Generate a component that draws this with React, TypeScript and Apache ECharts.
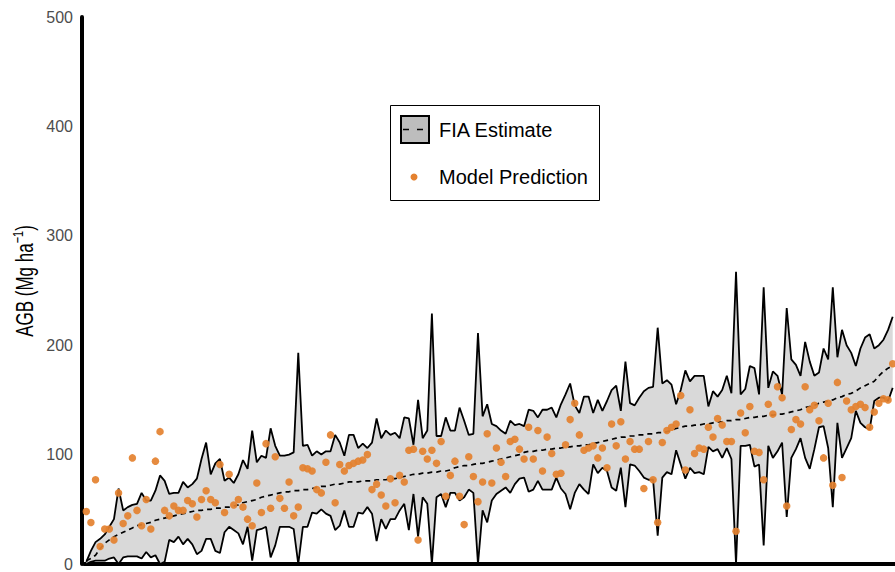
import React, { useEffect, useRef } from "react";
import * as echarts from "echarts";

const yTicks = [0, 100, 200, 300, 400, 500];

const fiaUpper = [
  2, 12, 20, 23, 27, 34, 41, 69, 49, 52, 54, 55, 65, 58, 58, 67, 81, 76, 64, 65, 65, 75, 70, 73, 78, 96, 111, 82, 92, 96,
  76, 79, 74, 82, 95, 87, 122, 93, 99, 97, 124, 108, 99, 99, 100, 102, 193, 108, 109, 99, 103, 100, 103, 103, 118, 111, 99, 118,
  118, 106, 110, 106, 111, 133, 115, 122, 118, 120, 115, 134, 133, 109, 150, 115, 122, 229, 117, 117, 134, 122, 122, 143, 131, 118, 119, 211,
  135, 146, 128, 126, 122, 119, 131, 127, 128, 126, 141, 140, 134, 141, 141, 143, 134, 146, 155, 165, 145, 138, 153, 153, 138, 150, 140, 149,
  159, 163, 140, 185, 147, 145, 152, 158, 161, 162, 216, 165, 168, 164, 146, 159, 177, 167, 172, 172, 172, 144, 158, 153, 159, 172, 156, 267, 155,
  160, 181, 179, 155, 253, 161, 176, 172, 155, 234, 187, 182, 172, 203, 185, 172, 175, 197, 187, 253, 189, 214, 200, 193, 181, 197, 207, 210, 197, 200, 205, 214, 226,
];

const fiaLower = [
  0, 2, 3, 3, 3, 5, 6, 0, 6, 7, 7, 7, 5, 11, 6, 8, 0, 2, 22, 20, 25, 18, 23, 18, 9, 12, 23, 23, 12, 10,
  29, 34, 31, 28, 18, 34, 3, 31, 32, 34, 6, 17, 34, 34, 34, 32, 0, 34, 34, 47, 46, 50, 46, 44, 31, 35, 49, 34,
  34, 47, 46, 52, 46, 21, 41, 32, 41, 41, 49, 55, 31, 64, 25, 61, 55, 0, 61, 64, 52, 65, 65, 58, 61, 68, 65, 0,
  49, 38, 58, 64, 67, 70, 65, 73, 78, 79, 66, 68, 76, 68, 68, 68, 79, 69, 64, 50, 65, 73, 68, 64, 91, 83, 88, 85,
  70, 67, 88, 52, 91, 90, 85, 79, 77, 77, 26, 79, 84, 82, 104, 91, 78, 88, 83, 84, 82, 107, 103, 105, 97, 106, 96, 0, 108,
  108, 109, 89, 91, 17, 108, 97, 103, 111, 43, 97, 105, 115, 97, 87, 105, 125, 126, 106, 52, 129, 97, 106, 115, 140, 129, 125, 123, 149, 152, 152, 149, 161,
];

const fiaMean = [
  3, 5, 8, 14, 19, 22, 25, 27, 29, 31, 33, 35, 36, 37, 38, 40, 41, 42, 43, 44, 45, 46, 47, 48, 49, 49, 50, 50, 51, 51,
  52, 52, 53, 54, 56, 57, 58, 59, 61, 62, 63, 64, 65, 66, 66, 67, 67, 68, 68, 69, 70, 71, 71, 72, 73, 73, 74, 75,
  75, 75, 76, 76, 76, 77, 77, 77, 78, 78, 79, 80, 81, 82, 82, 83, 83, 84, 84, 85, 85, 86, 88, 89, 90, 90, 91, 92,
  92, 93, 94, 95, 96, 97, 98, 99, 100, 102, 103, 103, 104, 104, 105, 105, 106, 106, 107, 107, 108, 108, 109, 109, 110, 111, 112, 113,
  114, 115, 116, 116, 117, 117, 118, 118, 119, 119, 120, 120, 121, 122, 124, 125, 126, 126, 127, 127, 128, 128, 129, 130, 130, 131, 131, 132, 132, 133,
  134, 134, 135, 135, 136, 136, 137, 137, 138, 139, 140, 141, 143, 144, 145, 147, 148, 149, 150, 152, 153, 155, 156, 158, 161, 163, 165, 167, 172, 176, 179, 181,
];

const modelPred = [
  48, 38, 77, 16, 32, 32, 22, 65, 37, 44, 97, 49, 35, 59, 32, 94, 121, 49, 44, 53, 49, 49, 58, 55, 43, 59, 67, 59, 56, 91,
  47, 82, 54, 59, 52, 41, 35, 74, 47, 110, 51, 98, 60, 51, 75, 44, 52, 88, 87, 85, 68, 65, 93, 118, 56, 91, 85, 90,
  92, 94, 95, 100, 68, 73, 63, 53, 78, 56, 81, 75, 104, 105, 22, 103, 96, 104, 92, 112, 62, 81, 94, 62, 36, 98, 80, 57,
  75, 119, 74, 106, 93, 80, 112, 114, 105, 96, 125, 96, 122, 85, 116, 101, 82, 83, 109, 132, 147, 118, 104, 106, 108, 97, 106, 88,
  128, 108, 130, 96, 112, 105, 105, 69, 112, 77, 38, 111, 122, 125, 128, 154, 86, 141, 101, 106, 105, 125, 116, 133, 127, 112, 112, 30, 138, 120, 144,
  103, 102, 77, 146, 137, 162, 152, 53, 123, 132, 128, 162, 141, 145, 131, 97, 147, 72, 166, 79, 149, 141, 144, 146, 143, 125, 139, 147, 151, 150, 183,
];

const ORANGE = "#E4812F";
const FONT = '"Liberation Sans", Arial, Helvetica, sans-serif';

export default function App() {
  const ref = useRef<HTMLDivElement>(null);

  useEffect(() => {
    if (!ref.current) return;
    const chart = echarts.init(ref.current, null, { renderer: "svg" });
    const cats = fiaMean.map((_, i) => String(i));
    const bandDiff = fiaUpper.map((u, i) => u - fiaLower[i]);

    chart.setOption({
      animation: false,
      backgroundColor: "#ffffff",
      grid: { left: 84, right: 0, top: 17, bottom: 5, containLabel: false },
      xAxis: {
        type: "category",
        data: cats,
        boundaryGap: true,
        offset: 2,
        axisLine: { show: true, lineStyle: { color: "#000", width: 4 } },
        axisTick: { show: false },
        axisLabel: { show: false },
        splitLine: { show: false },
      },
      yAxis: {
        type: "value",
        min: yTicks[0],
        max: yTicks[yTicks.length - 1],
        interval: 100,
        offset: 2,
        axisLine: { show: true, lineStyle: { color: "#000", width: 4 } },
        axisTick: { show: false },
        axisLabel: { show: true, margin: 9, fontFamily: FONT, fontSize: 16, color: "#4d4d4d" },
        splitLine: { show: false },
      },
      series: [
        {
          name: "bandBase",
          type: "line",
          data: fiaLower,
          stack: "band",
          symbol: "none",
          silent: true,
          lineStyle: { opacity: 0 },
          z: 1,
        },
        {
          name: "bandFill",
          type: "line",
          data: bandDiff,
          stack: "band",
          symbol: "none",
          silent: true,
          lineStyle: { opacity: 0 },
          areaStyle: { color: "#d9d9d9", opacity: 1 },
          z: 1,
        },
        {
          name: "FIA Upper",
          type: "line",
          data: fiaUpper,
          symbol: "none",
          lineStyle: { color: "#000", width: 1.8 },
          z: 3,
        },
        {
          name: "FIA Lower",
          type: "line",
          data: fiaLower,
          symbol: "none",
          lineStyle: { color: "#000", width: 1.8 },
          z: 3,
        },
        {
          name: "FIA Estimate",
          type: "line",
          data: fiaMean,
          symbol: "none",
          lineStyle: { color: "#000", width: 1.7, type: [5, 4] },
          z: 4,
        },
        {
          name: "Model Prediction",
          type: "scatter",
          data: modelPred,
          symbol: "circle",
          symbolSize: 7.5,
          itemStyle: { color: ORANGE, opacity: 0.92 },
          z: 5,
        },
      ],
      graphic: [
        {
          type: "text",
          x: 24,
          y: 281,
          rotation: Math.PI / 2,
          scaleY: 1.4,
          style: {
            text: "AGB (Mg ha{sup|−1})",
            fontFamily: FONT,
            fontSize: 17,
            fill: "#000",
            align: "center",
            verticalAlign: "middle",
            rich: {
              sup: { fontFamily: FONT, fontSize: 11, fill: "#000", verticalAlign: "top", padding: [0, 0, 9, 0] },
            },
          },
          z: 50,
        },
        {
          type: "rect",
          shape: { x: 390.5, y: 105.5, width: 209, height: 95 },
          style: { fill: "#fff", stroke: "#000", lineWidth: 1 },
          z: 100,
        },
        {
          type: "rect",
          shape: { x: 401, y: 116, width: 28, height: 27 },
          style: { fill: "#bdbdbd", stroke: "#000", lineWidth: 2 },
          z: 101,
        },
        {
          type: "line",
          shape: { x1: 403, y1: 129.5, x2: 427, y2: 129.5 },
          style: { stroke: "#000", lineWidth: 1.5, lineDash: [6, 8] },
          z: 102,
        },
        {
          type: "circle",
          shape: { cx: 414, cy: 177, r: 3.5 },
          style: { fill: ORANGE },
          z: 101,
        },
        {
          type: "text",
          x: 439,
          y: 130,
          style: { text: "FIA Estimate", fontFamily: FONT, fontSize: 20, fill: "#000", verticalAlign: "middle", align: "left" },
          z: 101,
        },
        {
          type: "text",
          x: 439,
          y: 177,
          style: { text: "Model Prediction", fontFamily: FONT, fontSize: 20, fill: "#000", verticalAlign: "middle", align: "left" },
          z: 101,
        },
      ],
    });

    return () => {
      chart.dispose();
    };
  }, []);

  return (
    <div
      ref={ref}
      style={{ position: "fixed", left: 0, top: 0, width: 895, height: 572 }}
    />
  );
}
